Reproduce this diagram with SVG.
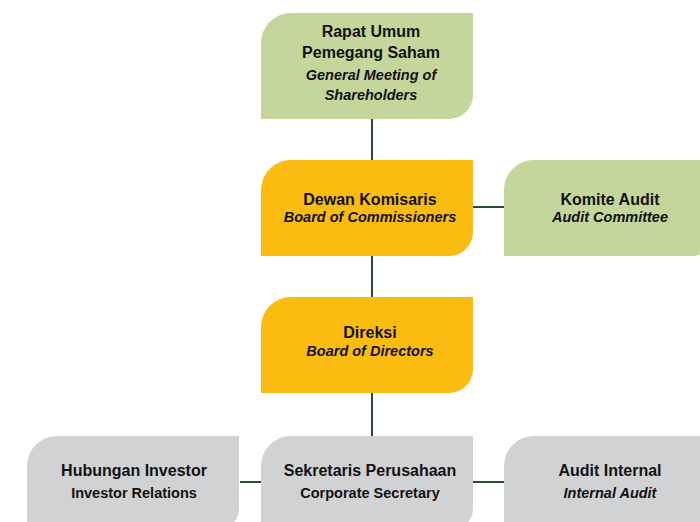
<svg xmlns="http://www.w3.org/2000/svg" xmlns:xlink="http://www.w3.org/1999/xlink" width="700" height="522" viewBox="0 0 700 522">
<style>
.green{fill:#c5d69c}
.yellow{fill:#fbbc11}
.gray{fill:#d1d2d4}
.conn{stroke:#2d4b2d;stroke-width:2;fill:none}
text{font-family:"Liberation Sans","Noto Sans",sans-serif;font-weight:bold;fill:#111;text-anchor:middle}
.t{font-size:16px}
.i{font-size:14.5px;font-style:italic}
.s{font-size:14.5px}
</style>
<defs>
<path id="box" d="M0,30 A30,30 0 0 1 30,0 H212 V72 A24,24 0 0 1 188,96 H0 Z"/>
<path id="boxTall" d="M0,30 A30,30 0 0 1 30,0 H212 V82 A24,24 0 0 1 188,106 H0 Z"/>
</defs>
<g id="connectors">
<line class="conn" x1="372" y1="119" x2="372" y2="160"/>
<line class="conn" x1="372" y1="256" x2="372" y2="297"/>
<line class="conn" x1="372" y1="392" x2="372" y2="436"/>
<line class="conn" x1="473" y1="207" x2="504" y2="207"/>
<line class="conn" x1="240" y1="482" x2="261" y2="482"/>
<line class="conn" x1="473" y1="482" x2="504" y2="482"/>
</g>
<g id="rups">
<use xlink:href="#boxTall" class="green" x="261" y="13"/>
<text class="t" x="371" y="37">Rapat Umum</text>
<text class="t" x="371" y="58">Pemegang Saham</text>
<text class="i" x="371" y="80">General Meeting of</text>
<text class="i" x="371" y="100">Shareholders</text>
</g>
<g id="dewan">
<use xlink:href="#box" class="yellow" x="261" y="160"/>
<text class="t" x="370" y="205">Dewan Komisaris</text>
<text class="i" x="370" y="222">Board of Commissioners</text>
</g>
<g id="komite">
<use xlink:href="#box" class="green" x="504" y="160"/>
<text class="t" x="610" y="205">Komite Audit</text>
<text class="i" x="610" y="222">Audit Committee</text>
</g>
<g id="direksi">
<use xlink:href="#box" class="yellow" x="261" y="297"/>
<text class="t" x="370" y="338">Direksi</text>
<text class="i" x="370" y="356">Board of Directors</text>
</g>
<g id="hubungan">
<use xlink:href="#box" class="gray" x="27" y="436"/>
<text class="t" x="134" y="476">Hubungan Investor</text>
<text class="s" x="134" y="498">Investor Relations</text>
</g>
<g id="sekretaris">
<use xlink:href="#box" class="gray" x="261" y="436"/>
<text class="t" x="370" y="476">Sekretaris Perusahaan</text>
<text class="s" x="370" y="498">Corporate Secretary</text>
</g>
<g id="audit">
<use xlink:href="#box" class="gray" x="504" y="436"/>
<text class="t" x="610" y="476">Audit Internal</text>
<text class="i" x="610" y="498">Internal Audit</text>
</g>
</svg>
